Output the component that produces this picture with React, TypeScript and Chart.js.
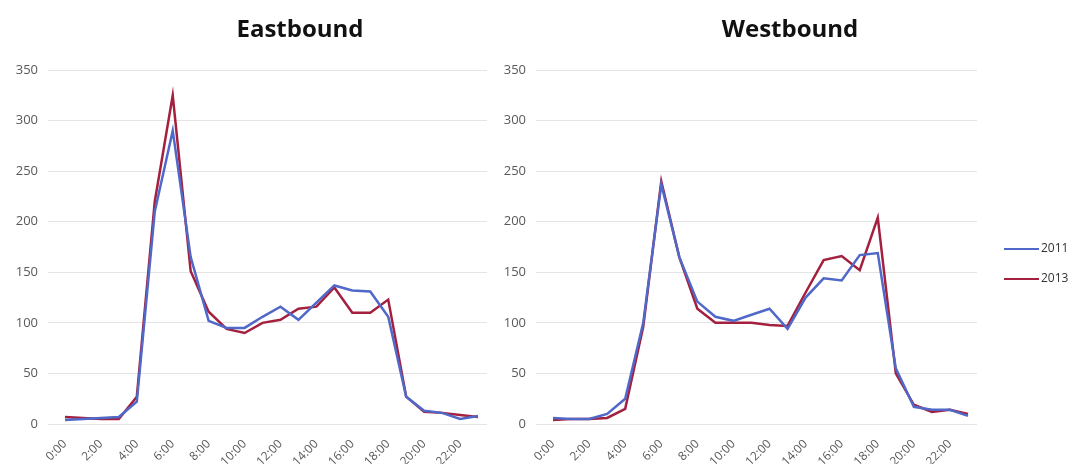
import React, { useEffect, useRef } from 'react';
import { Chart, registerables } from 'chart.js';

Chart.register(...registerables);

// Hourly volumes by direction, two survey years
const hours = [
  '0:00', '1:00', '2:00', '3:00', '4:00', '5:00', '6:00', '7:00', '8:00', '9:00', '10:00', '11:00',
  '12:00', '13:00', '14:00', '15:00', '16:00', '17:00', '18:00', '19:00', '20:00', '21:00', '22:00', '23:00',
];
const years = ['2011', '2013'];
const eastbound2011 = [4, 5, 6, 7, 22, 210, 290, 165, 102, 95, 95, 106, 116, 103, 120, 137, 132, 131, 106, 27, 13, 11, 5, 8];
const eastbound2013 = [7, 6, 5, 5, 27, 220, 325, 151, 111, 94, 90, 100, 103, 114, 116, 135, 110, 110, 123, 27, 12, 11, 9, 7];
const westbound2011 = [6, 5, 5, 10, 25, 100, 237, 165, 121, 106, 102, 108, 114, 94, 125, 144, 142, 167, 169, 55, 17, 14, 14, 8];
const westbound2013 = [4, 5, 5, 6, 15, 96, 240, 165, 114, 100, 100, 100, 98, 97, 130, 162, 166, 152, 204, 50, 19, 12, 14, 10];
const yTicks = { min: 0, max: 350, step: 50 };

const seriesColors = ['#5068C8', '#A3213F'];
const FONT = "'Open Sans', 'DejaVu Sans', sans-serif";

// Bold heading drawn above each panel
const panelTitle = {
  id: 'panelTitle',
  afterDraw(chart: any, _args: any, opts: any) {
    const { ctx } = chart;
    ctx.save();
    ctx.font = `bold ${opts.size}px ${FONT}`;
    ctx.fillStyle = '#111111';
    ctx.textAlign = 'center';
    ctx.textBaseline = 'middle';
    ctx.fillText(opts.text, opts.x, opts.y);
    ctx.restore();
  },
};

// Line-sample legend placed to the right of the plot area
const lineLegend = {
  id: 'lineLegend',
  afterDraw(chart: any, _args: any, opts: any) {
    if (!opts.show) return;
    const { ctx, chartArea } = chart;
    ctx.save();
    ctx.font = `12px ${FONT}`;
    ctx.textAlign = 'left';
    ctx.textBaseline = 'middle';
    chart.data.datasets.forEach((ds: any, i: number) => {
      const x0 = chartArea.right + opts.gap;
      const y = opts.top + i * opts.spacing;
      ctx.strokeStyle = ds.borderColor;
      ctx.lineWidth = 2;
      ctx.beginPath();
      ctx.moveTo(x0, y);
      ctx.lineTo(x0 + opts.length, y);
      ctx.stroke();
      ctx.fillStyle = '#333333';
      ctx.fillText(ds.label, x0 + opts.length + 2, y);
    });
    ctx.restore();
  },
};

function makeConfig(title: string, a: number[], b: number[], padding: any, showLegend: boolean): any {
  return {
    type: 'line',
    data: {
      labels: hours,
      datasets: [a, b].map((values, i) => ({
        label: years[i],
        data: values,
        borderColor: seriesColors[i],
        backgroundColor: seriesColors[i],
        borderWidth: 2.5,
        pointRadius: 0,
        tension: 0,
        fill: false,
      })),
    },
    options: {
      animation: false,
      responsive: false,
      devicePixelRatio: 1,
      layout: { padding },
      plugins: {
        legend: { display: false },
        title: { display: false },
        tooltip: { enabled: false },
        panelTitle: { text: title, x: 300, y: 30, size: 24 },
        lineLegend: { show: showLegend, gap: 27, top: 249, spacing: 30, length: 35 },
      },
      scales: {
        x: {
          offset: true,
          grid: { display: false, drawTicks: false },
          border: { display: false },
          ticks: {
            autoSkip: false,
            maxRotation: 45,
            minRotation: 45,
            padding: 13,
            color: '#595959',
            font: { family: FONT, size: 12 },
            callback(this: any, value: any, index: number) {
              return index % 2 === 0 ? this.getLabelForValue(value) : '';
            },
          },
          afterFit(scale: any) {
            scale.height = 40;
            scale.paddingLeft = 0;
            scale.paddingRight = 0;
          },
        },
        y: {
          min: yTicks.min,
          max: yTicks.max,
          border: { display: false },
          grid: { color: '#e4e4e4', lineWidth: 1, drawTicks: true, tickLength: 8 },
          ticks: {
            stepSize: yTicks.step,
            padding: 10,
            color: '#595959',
            font: { family: FONT, size: 13 },
          },
          afterFit(scale: any) {
            scale.width = 50;
          },
        },
      },
    },
    plugins: [panelTitle, lineLegend],
  };
}

function Panel(props: { left: number; width: number; title: string; a: number[]; b: number[]; padding: any; legend: boolean }) {
  const ref = useRef<HTMLCanvasElement>(null);
  useEffect(() => {
    if (!ref.current) return;
    const chart = new Chart(ref.current, makeConfig(props.title, props.a, props.b, props.padding, props.legend));
    return () => chart.destroy();
  }, []);
  return (
    <canvas
      ref={ref}
      width={props.width}
      height={470}
      style={{ position: 'absolute', left: props.left, top: 0, width: props.width, height: 470 }}
    />
  );
}

export default function App() {
  return (
    <div style={{ position: 'absolute', left: 0, top: 0, width: 1082, height: 470, background: '#ffffff' }}>
      <Panel left={0} width={490} title="Eastbound" a={eastbound2011} b={eastbound2013}
        padding={{ left: 6, right: 3, top: 70, bottom: 6 }} legend={false} />
      <Panel left={490} width={592} title="Westbound" a={westbound2011} b={westbound2013}
        padding={{ left: 4, right: 105, top: 70, bottom: 6 }} legend={true} />
    </div>
  );
}
